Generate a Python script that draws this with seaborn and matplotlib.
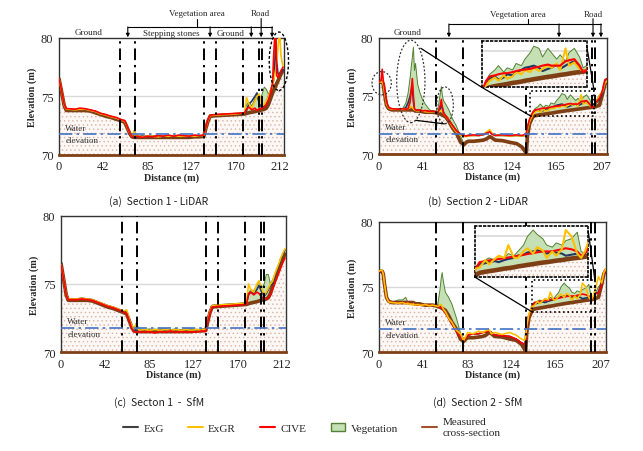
import matplotlib
matplotlib.use("Agg")
import matplotlib.pyplot as plt
import seaborn as sns
from matplotlib.lines import Line2D
from matplotlib.patches import Patch, Ellipse, Rectangle

# ---- Section 1 (panels a, c) ----
dist1 = [0, 2, 5, 7, 10, 15, 20, 25, 30, 35,
         40, 45, 50, 55, 60, 63, 66, 68, 70, 72,
         75, 80, 85, 90, 95, 100, 105, 110, 115, 120,
         125, 130, 135, 139, 141, 143, 145, 150, 160, 170,
         178, 180, 182, 185, 188, 190, 192, 195, 197, 199,
         201, 203, 205, 206, 207, 208, 209, 210, 211, 212,
         213, 215]
meas1 = [76.5, 75.6, 74.2, 73.8, 73.8, 73.8, 73.8, 73.8, 73.75, 73.6,
         73.45, 73.3, 73.2, 73.05, 72.9, 72.8, 72.2, 71.8, 71.55, 71.5,
         71.5, 71.5, 71.5, 71.5, 71.5, 71.5, 71.5, 71.5, 71.5, 71.5,
         71.5, 71.55, 71.55, 71.6, 72.3, 72.9, 73.3, 73.35, 73.4, 73.45,
         73.5, 73.55, 73.6, 73.65, 73.7, 73.75, 73.8, 73.85, 73.9, 74.0,
         74.3, 74.8, 75.3, 75.5, 75.7, 75.9, 76.1, 76.3, 76.5, 76.7,
         76.9, 77.2]
# (a) LiDAR
exg_a = [76.5, 75.65, 74.25, 73.9, 73.9, 73.85, 73.9, 73.9, 73.8, 73.7,
         73.5, 73.4, 73.25, 73.15, 72.95, 72.9, 72.25, 71.8, 71.6, 71.55,
         71.55, 71.6, 71.55, 71.6, 71.6, 71.55, 71.65, 71.6, 71.6, 71.6,
         71.55, 71.6, 71.6, 71.65, 72.35, 72.95, 73.35, 73.4, 73.45, 73.5,
         73.55, 73.8, 74.3, 74.6, 75.0, 75.3, 74.4, 74.0, 74.2, 74.5,
         75.0, 75.5, 76.0, 76.4, 77.5, 80.0, 78.0, 77.0, 76.9, 77.0,
         77.1, 77.3]
exgr_a = [76.5, 75.65, 74.25, 73.9, 73.9, 73.85, 73.9, 73.9, 73.8, 73.7,
          73.5, 73.4, 73.25, 73.15, 72.95, 72.9, 72.25, 71.85, 71.6, 72.0,
          71.6, 71.55, 71.6, 71.6, 71.55, 71.6, 71.6, 71.65, 71.6, 71.6,
          71.6, 71.6, 71.65, 71.65, 72.35, 72.95, 73.35, 73.4, 73.45, 73.5,
          73.6, 74.9, 74.4, 74.0, 74.6, 75.0, 75.2, 74.2, 74.3, 74.6,
          75.0, 75.5, 76.0, 76.4, 76.8, 77.3, 78.0, 79.0, 80.0, 80.0,
          78.5, 77.5]
cive_a = [76.5, 75.7, 74.3, 73.95, 73.95, 73.9, 74.0, 73.95, 73.85, 73.75,
          73.55, 73.45, 73.3, 73.2, 73.0, 72.95, 72.3, 71.85, 71.6, 71.55,
          71.6, 71.5, 71.6, 71.55, 71.65, 71.6, 71.7, 71.6, 71.7, 71.65,
          71.6, 71.7, 71.65, 71.7, 72.4, 73.0, 73.4, 73.45, 73.5, 73.55,
          73.6, 73.9, 74.1, 73.85, 74.0, 73.8, 73.95, 74.0, 74.1, 74.3,
          74.7, 75.3, 76.2, 78.5, 80.0, 80.0, 76.8, 76.6, 76.8, 77.0,
          77.2, 77.5]
veg_a = [76.5, 75.6, 74.2, 73.85, 73.85, 73.85, 73.85, 73.85, 73.8, 73.65,
         73.5, 73.35, 73.25, 73.1, 72.95, 72.85, 72.25, 71.9, 71.6, 72.1,
         71.55, 71.55, 71.55, 71.55, 71.55, 71.55, 71.55, 71.55, 71.55, 71.55,
         71.55, 71.6, 71.6, 71.65, 72.35, 72.95, 73.35, 73.4, 73.45, 73.5,
         73.55, 74.3, 74.5, 74.2, 74.8, 75.1, 74.5, 75.2, 75.8, 75.6,
         75.2, 75.4, 75.6, 75.8, 76.0, 76.2, 76.3, 76.5, 76.7, 76.9,
         77.1, 77.3]
# (c) SfM
exg_c = [76.4, 75.6, 74.25, 73.9, 73.9, 73.9, 73.95, 73.9, 73.85, 73.7,
         73.55, 73.4, 73.3, 73.15, 73.0, 72.95, 72.3, 71.9, 71.65, 71.6,
         71.6, 71.65, 71.6, 71.65, 71.6, 71.65, 71.6, 71.65, 71.6, 71.65,
         71.6, 71.65, 71.6, 71.7, 72.4, 73.0, 73.4, 73.45, 73.5, 73.55,
         73.6, 74.2, 74.4, 74.3, 74.6, 74.9, 74.5, 74.1, 74.3, 74.6,
         74.9, 75.0, 75.6, 75.8, 76.0, 76.2, 76.4, 76.6, 76.9, 77.0,
         77.2, 77.5]
exgr_c = [76.4, 75.6, 74.25, 73.9, 73.9, 73.9, 73.95, 73.9, 73.85, 73.7,
          73.55, 73.4, 73.3, 73.15, 73.0, 73.1, 72.3, 71.95, 71.7, 72.0,
          71.6, 71.65, 71.6, 71.65, 71.6, 71.65, 71.6, 71.65, 71.6, 71.65,
          71.6, 71.65, 71.6, 71.7, 72.4, 73.0, 73.4, 73.45, 73.5, 73.55,
          73.6, 75.0, 74.6, 74.4, 75.0, 75.25, 74.8, 74.2, 74.4, 74.7,
          75.0, 75.2, 75.7, 75.9, 76.1, 76.3, 76.5, 76.7, 76.95, 77.1,
          77.3, 77.6]
cive_c = [76.4, 75.6, 74.2, 73.85, 73.85, 73.85, 73.9, 73.85, 73.8, 73.65,
          73.5, 73.35, 73.25, 73.1, 72.95, 72.85, 72.2, 71.7, 71.5, 71.45,
          71.5, 71.45, 71.5, 71.4, 71.5, 71.45, 71.55, 71.45, 71.5, 71.45,
          71.5, 71.45, 71.55, 71.5, 72.3, 72.9, 73.3, 73.35, 73.4, 73.45,
          73.5, 74.3, 74.4, 74.2, 74.4, 74.3, 74.1, 73.9, 73.9, 74.0,
          74.2, 74.6, 75.0, 75.2, 75.4, 75.6, 75.8, 76.0, 76.2, 76.4,
          76.6, 76.9]
veg_c = [76.4, 75.6, 74.2, 73.9, 73.95, 73.9, 73.95, 73.9, 73.85, 73.7,
         73.55, 73.4, 73.3, 73.15, 73.0, 72.9, 72.3, 71.9, 71.7, 72.1,
         71.7, 71.65, 71.7, 71.65, 71.7, 71.7, 71.65, 71.7, 71.65, 71.7,
         71.7, 71.65, 71.7, 71.7, 72.4, 73.0, 73.45, 73.45, 73.5, 73.55,
         73.6, 74.3, 74.6, 74.5, 74.9, 75.2, 74.6, 75.0, 75.7, 75.7,
         75.0, 75.3, 75.6, 75.8, 76.0, 76.2, 76.4, 76.6, 76.9, 77.0,
         77.2, 77.5]

# ---- Section 2 (panels b, d) ----
dist2 = [0, 2, 3, 4, 5, 7, 9, 12, 18, 22,
         25, 27, 29, 30, 31, 32, 33, 34, 36, 38,
         40, 43, 47, 50, 53, 55, 57, 58, 59, 60,
         62, 65, 68, 72, 76, 79, 81, 83, 88, 93,
         97, 100, 103, 105, 108, 115, 122, 128, 133, 136,
         137, 138, 140, 143, 145, 148, 150, 153, 155, 158,
         160, 163, 165, 168, 170, 173, 175, 178, 180, 183,
         185, 188, 190, 193, 196, 198, 200, 202, 205, 208,
         210, 212]
meas2 = [76.2, 76.2, 76.2, 76.0, 75.3, 74.2, 73.9, 73.8, 73.8, 73.8,
         73.8, 73.8, 73.8, 73.8, 73.8, 73.8, 73.75, 73.7, 73.7, 73.7,
         73.65, 73.6, 73.6, 73.6, 73.55, 73.5, 73.45, 73.4, 73.35, 73.3,
         73.2, 72.8, 72.3, 71.8, 71.0, 70.8, 71.0, 71.1, 71.1, 71.15,
         71.2, 71.3, 71.5, 71.4, 71.2, 71.15, 71.0, 70.9, 70.6, 70.2,
         70.05, 71.5, 72.6, 73.2, 73.3, 73.35, 73.38, 73.42, 73.45, 73.5,
         73.52, 73.56, 73.6, 73.64, 73.67, 73.71, 73.74, 73.78, 73.8, 73.84,
         73.87, 73.9, 73.93, 73.97, 74.0, 74.02, 74.05, 74.1, 74.2, 75.2,
         76.0, 76.3]
# (b) LiDAR
exg_b = [76.2, 76.2, 76.2, 76.0, 75.4, 74.3, 73.95, 73.85, 73.85, 73.85,
         74.0, 74.4, 75.0, 75.5, 75.9, 74.5, 73.8, 73.75, 73.7, 73.75,
         73.7, 73.65, 73.6, 73.65, 73.6, 73.6, 73.9, 74.2, 74.0, 73.6,
         73.3, 72.9, 72.5, 72.0, 71.7, 71.6, 71.55, 71.6, 71.6, 71.6,
         71.65, 71.8, 71.9, 71.75, 71.6, 71.6, 71.55, 71.6, 71.55, 71.6,
         71.7, 72.2, 72.9, 73.5, 73.7, 73.8, 73.65, 73.75, 73.9, 73.85,
         74.0, 74.1, 74.2, 74.25, 74.3, 74.2, 74.05, 74.15, 74.2, 74.35,
         74.15, 74.3, 74.4, 74.5, 74.2, 74.0, 74.1, 74.4, 74.7, 75.3,
         76.2, 76.4]
exgr_b = [76.2, 76.2, 76.2, 76.0, 75.4, 74.3, 73.95, 73.85, 73.85, 73.85,
          73.85, 73.9, 74.0, 74.1, 74.0, 73.9, 73.8, 73.75, 73.7, 73.75,
          73.7, 73.65, 73.6, 73.65, 73.6, 73.6, 73.7, 73.75, 73.7, 73.5,
          73.3, 72.9, 72.4, 71.9, 71.6, 71.5, 71.5, 71.55, 71.6, 71.6,
          71.7, 71.9, 72.1, 71.8, 71.6, 71.6, 71.55, 71.6, 71.55, 71.6,
          71.7, 72.1, 72.8, 73.4, 73.6, 73.75, 73.6, 73.85, 73.7, 73.8,
          74.0, 73.9, 74.1, 74.0, 74.2, 74.05, 74.15, 74.3, 74.2, 74.4,
          74.1, 75.1, 74.3, 74.45, 74.15, 74.05, 74.1, 74.5, 75.0, 75.4,
          76.1, 76.3]
cive_b = [76.2, 76.4, 77.3, 76.3, 75.8, 74.5, 74.0, 73.9, 73.85, 73.9,
          73.85, 73.9, 74.5, 75.5, 76.5, 75.0, 73.9, 73.8, 73.75, 73.8,
          73.7, 73.75, 73.65, 73.7, 73.6, 73.6, 74.2, 74.7, 73.9, 73.5,
          73.3, 72.9, 72.5, 72.0, 71.7, 71.6, 71.55, 71.6, 71.65, 71.6,
          71.7, 71.8, 71.9, 71.7, 71.6, 71.65, 71.6, 71.65, 71.6, 71.7,
          71.8, 72.3, 73.0, 73.6, 73.8, 73.85, 73.9, 73.95, 73.95, 74.0,
          74.05, 74.1, 74.12, 74.15, 74.2, 74.25, 74.3, 74.35, 74.3, 74.3,
          74.3, 74.5, 74.55, 74.6, 74.3, 74.0, 74.1, 74.5, 74.8, 75.5,
          76.4, 76.5]
veg_b = [76.2, 76.2, 76.2, 76.0, 75.3, 74.2, 73.9, 73.8, 73.85, 73.9,
         74.4, 75.2, 76.6, 77.5, 78.3, 79.2, 77.2, 77.8, 76.0, 75.3,
         74.8, 74.3, 73.8, 73.7, 73.7, 74.0, 75.2, 75.8, 75.0, 74.6,
         74.3, 73.8, 73.1, 72.4, 71.5, 70.9, 71.0, 71.1, 71.1, 71.15,
         71.2, 71.3, 71.5, 71.4, 71.2, 71.15, 71.0, 70.9, 70.6, 70.2,
         70.1, 71.6, 72.7, 73.6, 73.9, 74.1, 74.3, 74.0, 74.2, 74.1,
         74.4, 74.3, 74.6, 74.9, 75.2, 75.1, 74.7, 75.1, 74.9, 74.6,
         74.8, 74.5, 74.9, 75.1, 74.7, 74.2, 74.3, 74.6, 75.1, 75.4,
         76.0, 76.3]
# (d) SfM
exg_d = [76.2, 76.2, 76.2, 76.0, 75.3, 74.2, 73.9, 73.8, 73.8, 73.8,
         73.8, 73.75, 73.7, 73.7, 73.7, 73.7, 73.65, 73.6, 73.6, 73.6,
         73.6, 73.6, 73.6, 73.6, 73.55, 73.5, 73.45, 73.4, 73.35, 73.25,
         73.0, 72.6, 72.2, 71.7, 71.3, 71.0, 71.1, 71.3, 71.4, 71.4,
         71.5, 71.55, 71.6, 71.5, 71.3, 71.25, 71.2, 71.0, 70.7, 70.6,
         70.8, 71.8, 72.8, 73.5, 73.7, 73.75, 73.8, 73.85, 73.8, 73.9,
         73.95, 74.0, 74.1, 74.15, 74.25, 74.3, 74.35, 74.3, 74.2, 74.3,
         74.25, 74.2, 74.1, 74.15, 74.2, 74.05, 74.2, 74.5, 74.6, 75.2,
         76.0, 76.3]
exgr_d = [76.2, 76.3, 76.25, 76.0, 75.3, 74.2, 73.85, 73.8, 73.75, 73.8,
          73.7, 73.75, 73.65, 73.7, 73.6, 73.7, 73.65, 73.6, 73.65, 73.6,
          73.6, 73.65, 73.55, 73.6, 73.55, 73.5, 73.6, 73.65, 73.5, 73.3,
          73.1, 72.6, 72.3, 71.7, 71.4, 70.9, 71.2, 71.5, 71.4, 71.6,
          71.5, 71.65, 71.7, 71.4, 71.5, 71.35, 71.5, 71.3, 71.0, 70.9,
          71.2, 72.0, 72.9, 73.5, 73.55, 73.9, 73.7, 73.95, 74.1, 74.0,
          74.6, 74.0, 74.0, 74.3, 74.45, 74.2, 74.5, 74.35, 74.0, 74.3,
          74.1, 74.4, 75.3, 75.0, 74.2, 74.0, 74.3, 74.8, 75.8, 75.3,
          76.1, 76.4]
cive_d = [76.2, 76.2, 76.2, 76.0, 75.3, 74.2, 73.9, 73.8, 73.8, 73.8,
          73.8, 73.75, 73.7, 73.7, 73.7, 73.7, 73.65, 73.6, 73.6, 73.6,
          73.6, 73.6, 73.6, 73.6, 73.55, 73.5, 73.45, 73.4, 73.35, 73.25,
          73.0, 72.6, 72.2, 71.6, 71.2, 70.9, 71.1, 71.3, 71.4, 71.4,
          71.5, 71.55, 71.6, 71.5, 71.3, 71.25, 71.2, 71.0, 70.7, 70.6,
          70.8, 71.8, 72.8, 73.5, 73.8, 73.85, 73.88, 73.92, 73.95, 73.98,
          74.02, 74.06, 74.1, 74.14, 74.18, 74.22, 74.26, 74.3, 74.3, 74.3,
          74.35, 74.4, 74.45, 74.4, 74.3, 74.1, 74.2, 74.5, 74.5, 75.2,
          76.0, 76.3]
veg_d = [76.2, 76.2, 76.2, 76.0, 75.3, 74.2, 73.9, 73.8, 74.0, 74.0,
         74.2, 73.8, 73.8, 73.8, 73.8, 73.8, 73.75, 73.7, 73.7, 73.7,
         73.65, 73.6, 73.6, 73.6, 73.6, 73.7, 74.8, 75.6, 76.1, 75.5,
         74.6, 74.2, 73.7, 72.7, 71.5, 70.9, 71.0, 71.1, 71.1, 71.15,
         71.2, 71.3, 71.5, 71.4, 71.2, 71.15, 71.0, 70.9, 70.6, 70.2,
         70.1, 71.6, 72.8, 73.6, 73.7, 73.9, 74.0, 73.9, 74.1, 74.0,
         74.2, 74.1, 74.3, 74.6, 75.0, 75.3, 75.1, 74.9, 74.6, 74.5,
         74.7, 74.6, 74.8, 74.9, 75.2, 74.3, 74.2, 74.5, 75.0, 75.3,
         76.0, 76.3]

ticks1 = [0, 42, 85, 127, 170, 212]
ticks2 = [0, 41, 83, 124, 165, 207]
bounds1 = [58.5, 73, 139.5, 150.5, 177, 191.5, 195]
bounds_b = [52.6, 78.4, 136.6, 198, 200.7]
bounds_d = [53, 78.4, 137, 198, 201.3]
water_level = 71.75

C_EXG, C_EXGR, C_CIVE = '#1f3864', '#ffc000', '#ff0000'
C_VEG, C_VEG_EDGE, C_MEAS = '#c5e0b4', '#548235', '#7f3f14'

sns.set_theme(style='white')
plt.rcParams['font.family'] = ['Liberation Serif', 'DejaVu Serif']
plt.rcParams['hatch.linewidth'] = 0.5
CAP_FONT = ['Noto Sans CJK KR', 'DejaVu Sans']


def draw_profile(ax, x, meas, exg, exgr, cive, veg, lw=1.2, top='cive'):
    # terreno com pontilhado + vegetacao + indices
    ax.fill_between(x, 70, meas, facecolor='#fdf8f5', edgecolor='#d8b4a6',
                    hatch='....', linewidth=0, zorder=1)
    ax.fill_between(x, meas, veg, facecolor=C_VEG, edgecolor='none', zorder=2)
    sns.lineplot(x=x, y=veg, ax=ax, color=C_VEG_EDGE, lw=0.7, zorder=2.2)
    sns.lineplot(x=x, y=meas, ax=ax, color=C_MEAS, lw=lw * 2.2, zorder=2.5)
    z = {'exg': 3, 'exgr': 3.5, 'cive': 4}
    if top == 'exgr':
        z = {'exg': 3, 'cive': 3.5, 'exgr': 4}
    sns.lineplot(x=x, y=exg, ax=ax, color=C_EXG, lw=lw, zorder=z['exg'])
    sns.lineplot(x=x, y=exgr, ax=ax, color=C_EXGR, lw=lw, zorder=z['exgr'])
    sns.lineplot(x=x, y=cive, ax=ax, color=C_CIVE, lw=lw, zorder=z['cive'])


def setup_panel(ax, xmax, ticks, bounds):
    ax.set_xlim(0, xmax)
    ax.set_ylim(70, 80)
    ax.set_xticks(ticks)
    ax.set_yticks([70, 75, 80])
    ax.tick_params(length=0, labelsize=9, pad=4)
    ax.axhline(75, color='#d9d9d9', lw=1, zorder=0.5)
    for v in bounds:
        ax.axvline(v, color='black', lw=1.4, ls=(0, (6, 2.5, 1.2, 2.5)), zorder=4.5)
    ax.axhline(water_level, color='#4472c4', lw=1.2, ls=(0, (8, 2.5, 1.5, 2.5)), zorder=4.6)
    ax.text(6, 72.3, 'Water', fontsize=6.5, va='center', color='#333333', zorder=6)
    ax.text(6, 71.3, 'elevation', fontsize=6.5, va='center', color='#333333', zorder=6)
    ax.set_xlabel('Distance (m)', fontweight='bold', fontsize=7.3, labelpad=0)
    ax.set_ylabel('Elevation (m)', fontweight='bold', fontsize=7.3, labelpad=3)
    for sp in ax.spines.values():
        sp.set_color('#333333')
        sp.set_linewidth(1)
    ax.spines['bottom'].set_color(C_MEAS)
    ax.spines['bottom'].set_linewidth(2)


def add_inset(ax, rect, lims, x, meas, exg, exgr, cive, veg, top='cive'):
    ins = ax.inset_axes(rect, transform=ax.transData)
    ins.set_facecolor('white')
    ins.axhline(75, color='#d9d9d9', lw=1.2, zorder=0.5)
    draw_profile(ins, x, meas, exg, exgr, cive, veg, lw=1.5, top=top)
    ins.set_xlim(lims[0], lims[1])
    ins.set_ylim(lims[2], lims[3])
    ins.set_xticks([])
    ins.set_yticks([])
    ins.set_xlabel('')
    ins.set_ylabel('')
    for sp in ins.spines.values():
        sp.set_linestyle(':')
        sp.set_color('black')
        sp.set_linewidth(1.2)
    ax.add_patch(Rectangle((lims[0], lims[2]), lims[1] - lims[0], lims[3] - lims[2],
                           fill=False, ls=':', lw=1.2, ec='black', zorder=7))
    ax.plot([rect[0], lims[0]], [rect[1], lims[2]], color='black', lw=0.9, zorder=7)
    ax.plot([rect[0] + rect[2], lims[1]], [rect[1] + rect[3] - 0.4, lims[3]],
            color='black', lw=0.9, zorder=7)


def arrow_down(ax, xa, y0, y1):
    trans = ax.get_xaxis_transform()
    ax.annotate('', xy=(xa, y1), xytext=(xa, y0), xycoords=trans, textcoords=trans,
                arrowprops=dict(arrowstyle='-|>', lw=0.8, color='black',
                                mutation_scale=5, shrinkA=0, shrinkB=0))


def top_labels(ax, texts, bar, stem, arrows, road_x):
    trans = ax.get_xaxis_transform()
    for xt, yt, s in texts:
        ax.text(xt, yt, s, transform=trans, ha='center', va='center', fontsize=6.5)
    ax.plot([bar[0], bar[1]], [bar[2], bar[2]], transform=trans, clip_on=False,
            color='black', lw=0.8)
    ax.plot([stem, stem], [bar[2], 1.165], transform=trans, clip_on=False,
            color='black', lw=0.8)
    for xa in arrows:
        arrow_down(ax, xa, bar[2], 1.005)
    arrow_down(ax, road_x, 1.165, 1.005)


fig = plt.figure(figsize=(6.43, 4.52), dpi=100)
ax_a = fig.add_axes([0.0918, 0.655, 0.350, 0.259])
ax_b = fig.add_axes([0.5894, 0.657, 0.3546, 0.257])
ax_c = fig.add_axes([0.0949, 0.219, 0.350, 0.301])
ax_d = fig.add_axes([0.5894, 0.219, 0.353, 0.288])

# (a)
draw_profile(ax_a, dist1, meas1, exg_a, exgr_a, cive_a, veg_a)
setup_panel(ax_a, 216, ticks1, bounds1)
top_labels(ax_a, [(28, 1.05, 'Ground'), (108, 1.045, 'Stepping stones'),
                  (165, 1.04, 'Ground'), (132, 1.21, 'Vegetation area'),
                  (193, 1.21, 'Road')],
           (66, 204.5, 1.094), 132, [66, 145, 184.5, 204.5], 194)
ax_a.add_patch(Ellipse((211, 78), 18.5, 5, fill=False, ls=(0, (2, 1.5)), lw=1,
                       ec='black', clip_on=False, zorder=7))

# (b)
draw_profile(ax_b, dist2, meas2, exg_b, exgr_b, cive_b, veg_b)
setup_panel(ax_b, 212, ticks2, bounds_b)
top_labels(ax_b, [(27, 1.05, 'Ground'), (129, 1.205, 'Vegetation area'),
                  (199, 1.205, 'Road')],
           (65, 206.4, 1.12), 138.5, [65, 167.4, 206.4], 199)
for cx, cy, w, h in [(2.5, 76.1, 18, 2.0), (29.6, 76.25, 26.3, 7.1), (61.4, 74.2, 15.5, 3.15)]:
    ax_b.add_patch(Ellipse((cx, cy), w, h, fill=False, ls=(0, (1.5, 1.5)), lw=0.9,
                           ec='#333333', clip_on=False, zorder=7))
ax_b.plot([38.9, 95.5], [79.1, 75.75], color='black', lw=0.9, zorder=7)
ax_b.plot([34.3, 60.7], [72.9, 72.6], color='black', lw=0.9, zorder=7)
add_inset(ax_b, [95.5, 75.75, 97.6, 4.0], (140.5, 200, 73.3, 75.45),
          dist2, meas2, exg_b, exgr_b, cive_b, veg_b)

# (c)
draw_profile(ax_c, dist1, meas1, exg_c, exgr_c, cive_c, veg_c)
setup_panel(ax_c, 216, ticks1, bounds1)

# (d)
draw_profile(ax_d, dist2, meas2, exg_d, exgr_d, cive_d, veg_d, top='exgr')
setup_panel(ax_d, 212, ticks2, bounds_d)
add_inset(ax_d, [89.6, 75.75, 105.8, 3.95], (142.6, 201.7, 73.1, 75.5),
          dist2, meas2, exg_d, exgr_d, cive_d, veg_d, top='exgr')

captions = [(0.247, 0.555, '(a)  Section 1 - LiDAR'), (0.743, 0.555, '(b)  Section 2 - LiDAR'),
            (0.247, 0.108, '(c)  Secton 1  -  SfM'), (0.743, 0.108, '(d)  Section 2 - SfM')]
for xc, yc, s in captions:
    fig.text(xc, yc, s, ha='center', va='center', fontsize=7.5, family=CAP_FONT, color='#222222')

handles = [Line2D([0], [0], color='#404040', lw=1.5),
           Line2D([0], [0], color=C_EXGR, lw=1.5),
           Line2D([0], [0], color=C_CIVE, lw=1.5),
           Patch(facecolor=C_VEG, edgecolor=C_VEG_EDGE),
           Line2D([0], [0], color='#a0522d', lw=1.5)]
labels = ['ExG', 'ExGR', 'CIVE', 'Vegetation', 'Measured\ncross-section']
fig.legend(handles, labels, loc='center', bbox_to_anchor=(0.485, 0.053), ncol=5,
           frameon=False, fontsize=8, handlelength=1.3, handletextpad=0.5,
           columnspacing=2.2)

fig.savefig('out.png', dpi=100)
